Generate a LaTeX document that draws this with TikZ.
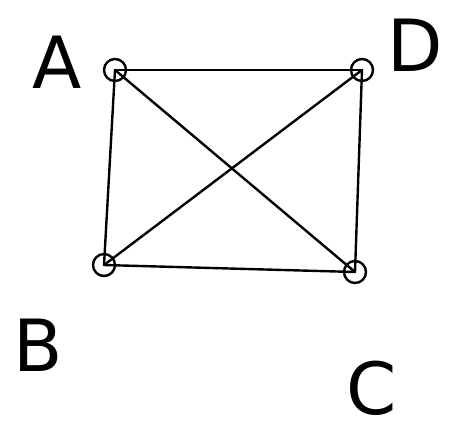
\documentclass[tikz,border=0pt]{standalone}
\usepackage{fontspec}
\setmainfont{DejaVu Sans}
\begin{document}
\begin{tikzpicture}[x=1pt,y=-1pt,
  vtx/.style={circle,draw,line width=2.4pt,minimum size=22pt,inner sep=0pt},
  lbl/.style={font=\fontsize{72}{72}\selectfont},
  edge/.style={line width=2.4pt,line cap=round}]
\useasboundingbox (0,0) rectangle (449,434);
\node[vtx] (a) at (115,70) {};
\node[vtx] (d) at (362,70) {};
\node[vtx] (b) at (104,265) {};
\node[vtx] (c) at (355,272) {};
\node[lbl] (la) at (57,62) {A};
\node[lbl] (ld) at (415,45) {D};
\node[lbl] (lb) at (38,345) {B};
\node[lbl] (lc) at (372,388) {C};
\draw[edge] (a.center) -- (d.center);
\draw[edge] (a.center) -- (b.center);
\draw[edge] (d.center) -- (c.center);
\draw[edge] (b.center) -- (c.center);
\draw[edge] (a.center) -- (c.center);
\draw[edge] (d.center) -- (b.center);
\end{tikzpicture}
\end{document}
